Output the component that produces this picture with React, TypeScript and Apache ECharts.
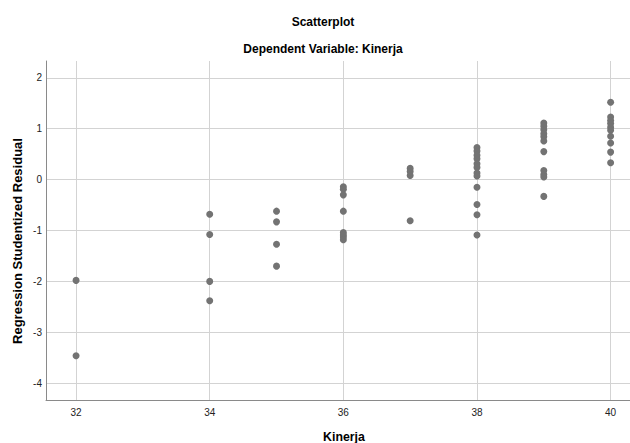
import React, { useEffect, useRef } from "react";
import * as echarts from "echarts";

// Residuals grouped by Kinerja value
const kinerja = [32, 34, 35, 36, 37, 38, 39, 40];
const res32 = [-1.98, -3.46];
const res34 = [-0.68, -1.08, -2.0, -2.38];
const res35 = [-0.62, -0.83, -1.27, -1.7];
const res36 = [-0.14, -0.19, -0.3, -0.62, -1.04, -1.09, -1.13, -1.18];
const res37 = [0.22, 0.16, 0.08, -0.81];
const res38 = [0.63, 0.56, 0.48, 0.41, 0.31, 0.24, 0.13, 0.07, -0.15, -0.49, -0.69, -1.09];
const res39 = [1.11, 1.05, 0.98, 0.9, 0.84, 0.76, 0.55, 0.18, 0.1, 0.05, -0.33];
const res40 = [1.52, 1.23, 1.16, 1.1, 1.03, 0.97, 0.85, 0.72, 0.54, 0.33];
const residualGroups = [res32, res34, res35, res36, res37, res38, res39, res40];

const xTicks = [32, 34, 36, 38, 40];
const yTicks = [-4, -3, -2, -1, 0, 1, 2];

const titleText = "Scatterplot";
const subtitleText = "Dependent Variable: Kinerja";
const xName = "Kinerja";
const yName = "Regression Studentized Residual";

export default function App() {
  const ref = useRef<HTMLDivElement>(null);
  useEffect(() => {
    if (!ref.current) return;
    const chart = echarts.init(ref.current, null, { renderer: "svg" });
    const data: number[][] = [];
    kinerja.forEach((k, i) => {
      residualGroups[i].forEach((r) => data.push([k, r]));
    });
    const font = "'Liberation Sans', Arial, sans-serif";
    chart.setOption({
      animation: false,
      backgroundColor: "#ffffff",
      grid: { left: 46, top: 61, right: 0, height: 339, containLabel: false },
      xAxis: {
        type: "value",
        min: 31.55,
        max: 40.29,
        axisLine: { show: true, onZero: false, lineStyle: { color: "#8a8a8a", width: 1 } },
        axisTick: { show: false, customValues: xTicks },
        axisLabel: {
          customValues: xTicks,
          color: "#222",
          fontSize: 10,
          fontFamily: font,
          margin: 7,
        },
        splitLine: { show: true, lineStyle: { color: "#d3d3d3", width: 1 } },
      },
      yAxis: {
        type: "value",
        min: -4.33,
        max: 2.33,
        axisLine: { show: true, onZero: false, lineStyle: { color: "#8a8a8a", width: 1 } },
        axisTick: { show: false, customValues: yTicks },
        axisLabel: {
          customValues: yTicks,
          color: "#222",
          fontSize: 10,
          fontFamily: font,
          margin: 4,
        },
        splitLine: { show: true, lineStyle: { color: "#d3d3d3", width: 1 } },
      },
      series: [
        {
          type: "scatter",
          data,
          symbol: "circle",
          symbolSize: 7,
          itemStyle: { color: "#737373", opacity: 1 },
        },
      ],
      graphic: [
        {
          type: "text",
          x: 323,
          y: 21.6,
          style: {
            text: titleText,
            fill: "#000",
            fontSize: 12,
            fontWeight: "bold",
            fontFamily: font,
            align: "center",
            verticalAlign: "middle",
          },
        },
        {
          type: "text",
          x: 323,
          y: 48.6,
          style: {
            text: subtitleText,
            fill: "#000",
            fontSize: 12,
            fontWeight: "bold",
            fontFamily: font,
            align: "center",
            verticalAlign: "middle",
          },
        },
        {
          type: "text",
          x: 17,
          y: 241,
          rotation: Math.PI / 2,
          style: {
            text: yName,
            fill: "#000",
            fontSize: 13,
            fontWeight: "bold",
            fontFamily: font,
            align: "center",
            verticalAlign: "middle",
          },
        },
        {
          type: "text",
          x: 344,
          y: 437,
          scaleX: 0.95,
          style: {
            text: xName,
            fill: "#000",
            fontSize: 13,
            fontWeight: "bold",
            fontFamily: font,
            align: "center",
            verticalAlign: "middle",
          },
        },
      ],
    });
    return () => chart.dispose();
  }, []);
  return (
    <div
      ref={ref}
      style={{ position: "fixed", left: 0, top: 0, width: 630, height: 443, overflow: "hidden" }}
    />
  );
}
